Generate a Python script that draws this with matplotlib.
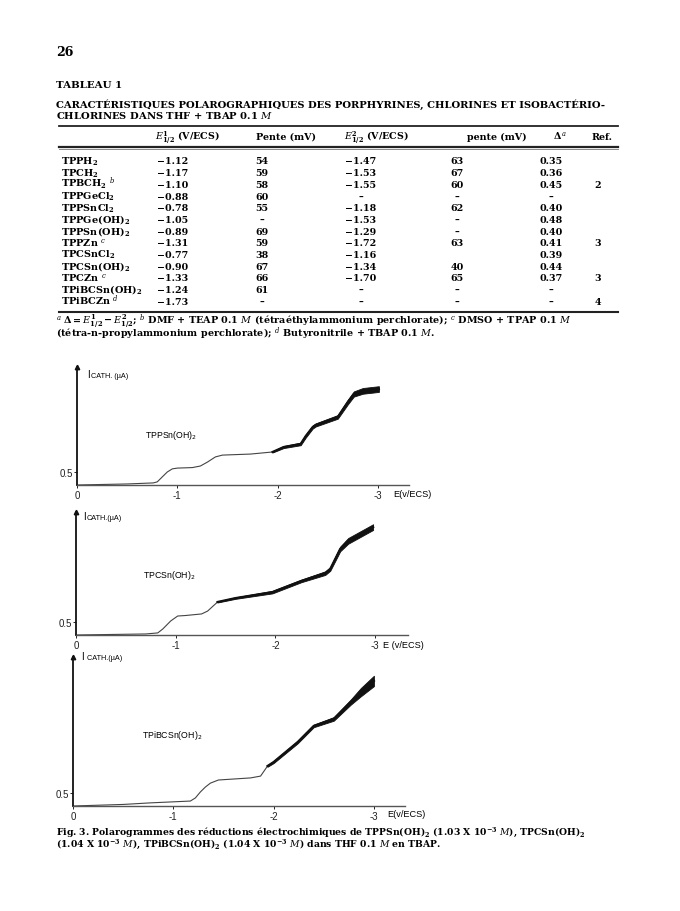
import matplotlib
matplotlib.use("Agg")
import matplotlib.pyplot as plt
import numpy as np

plt.rcParams['mathtext.fontset'] = 'dejavuserif'
plt.rcParams['mathtext.default'] = 'bf'

W, H = 680, 912

# ---------------- table data ----------------
col_headers = [r'$\mathit{E}^{1}_{1/2}$ (V/ECS)', 'Pente (mV)', r'$\mathit{E}^{2}_{1/2}$ (V/ECS)',
               'pente (mV)', r'$\Delta^{\,\mathit{a}}$', 'Ref.']
names = ['TPPH$_2$', 'TPCH$_2$', r'TPBCH$_2$ $^{\mathit{b}}$', 'TPPGeCl$_2$', 'TPPSnCl$_2$',
         'TPPGe(OH)$_2$', 'TPPSn(OH)$_2$', r'TPPZn $^{\mathit{c}}$', 'TPCSnCl$_2$',
         'TPCSn(OH)$_2$', r'TPCZn $^{\mathit{c}}$', 'TPiBCSn(OH)$_2$', r'TPiBCZn $^{\mathit{d}}$']
e_half_1 = ['−1.12', '−1.17', '−1.10', '−0.88', '−0.78', '−1.05', '−0.89', '−1.31', '−0.77',
            '−0.90', '−1.33', '−1.24', '−1.73']
pente_1 = ['54', '59', '58', '60', '55', '–', '69', '59', '38', '67', '66', '61', '–']
e_half_2 = ['−1.47', '−1.53', '−1.55', '–', '−1.18', '−1.53', '−1.29', '−1.72', '−1.16',
            '−1.34', '−1.70', '–', '–']
pente_2 = ['63', '67', '60', '–', '62', '–', '–', '63', '', '40', '65', '–', '–']
delta = ['0.35', '0.36', '0.45', '–', '0.40', '0.48', '0.40', '0.41', '0.39', '0.44', '0.37',
         '–', '–']
refs = ['', '', '2', '', '', '', '', '3', '', '', '3', '', '4']

# ---------------- polarogram data (E in V/ECS, I in uA) ----------------
labels = ['TPPSn(OH)$_\\mathrm{2}$', 'TPCSn(OH)$_\\mathrm{2}$', 'TPiBCSn(OH)$_\\mathrm{2}$']

E1 = [0, -0.5, -0.76, -0.8, -0.85, -0.9, -0.95, -1.0, -1.15, -1.23, -1.3, -1.38, -1.45, -1.73,
      -1.95, -2.06, -2.23, -2.28, -2.35, -2.38, -2.6, -2.7, -2.76, -2.85, -3.01]
I1 = [0, 0.04, 0.08, 0.12, 0.31, 0.5, 0.62, 0.65, 0.67, 0.73, 0.88, 1.08, 1.15, 1.19,
      1.27, 1.46, 1.58, 1.88, 2.23, 2.31, 2.62, 3.19, 3.5, 3.62, 3.69]
N1 = [0, 0, 0, 0, 0, 0, 0, 0, 0, 0, 0, 0, 0, 0,
      0.02, 0.04, 0.05, 0.06, 0.06, 0.06, 0.07, 0.09, 0.1, 0.11, 0.11]

E2 = [0, -0.7, -0.82, -0.87, -0.95, -1.02, -1.1, -1.26, -1.32, -1.42, -1.6, -1.97, -2.26,
      -2.5, -2.55, -2.65, -2.73, -2.98]
I2 = [0, 0.04, 0.08, 0.23, 0.54, 0.73, 0.75, 0.81, 0.92, 1.27, 1.42, 1.65, 2.08,
      2.38, 2.54, 3.31, 3.62, 4.15]
N2 = [0, 0, 0, 0, 0, 0, 0, 0, 0, 0.02, 0.03, 0.05, 0.05, 0.07, 0.07, 0.09, 0.11, 0.11]

E3 = [0, -0.5, -0.77, -1.17, -1.22, -1.27, -1.32, -1.37, -1.45, -1.77, -1.87, -1.94, -2.0,
      -2.24, -2.4, -2.6, -2.77, -2.87, -3.0]
I3 = [0, 0.06, 0.12, 0.19, 0.31, 0.54, 0.73, 0.88, 1.0, 1.08, 1.15, 1.54, 1.69,
      2.46, 3.08, 3.35, 4.0, 4.38, 4.81]
N3 = [0, 0, 0, 0, 0, 0, 0, 0, 0, 0, 0, 0.03, 0.04, 0.05, 0.05, 0.07, 0.1, 0.16, 0.2]

x_ticks = [0, -1, -2, -3]
x_ticklabels = ['0', '-1', '-2', '-3']
y_ticks = [0.5]
y_ticklabels = ['0.5']

fig = plt.figure(figsize=(W / 100, H / 100), dpi=100)
fig.patch.set_facecolor('white')

SERIF = 'DejaVu Serif'
SANS = 'Liberation Sans'


def T(x, y, s, size=7.0, ha='left', va='baseline', family=SERIF, weight='bold', **kw):
    return fig.text(x / W, 1 - y / H, s, fontsize=size, ha=ha, va=va,
                    family=family, weight=weight, **kw)


def HL(y, x0, x1, lw=1.0, color='#222'):
    fig.add_artist(plt.Line2D([x0 / W, x1 / W], [1 - y / H, 1 - y / H],
                              lw=lw, color=color, transform=fig.transFigure))


# ---------------- page header / table ----------------
T(56, 56, '26', size=9)
T(56, 87.5, 'TABLEAU 1', size=7.4)
T(56, 107.5, 'CARACTÉRISTIQUES POLAROGRAPHIQUES DES PORPHYRINES, CHLORINES ET ISOBACTÉRIO-', size=7.2)
T(56, 119, r'CHLORINES DANS THF + TBAP 0.1 $\mathit{M}$', size=7.2)

HL(126.5, 59, 618, lw=1.3)
hdr_x = [155, 256, 344, 467, 553, 592]
for hx, hs in zip(hdr_x, col_headers):
    T(hx, 140, hs, size=6.8)
HL(147.5, 59, 618, lw=1.6)
HL(149.5, 59, 618, lw=0.6, color='#777')

col_cx = [173, 262, 361, 457, 551, 598]
for i in range(len(names)):
    yb = 164.5 + 11.67 * i
    T(61, yb, names[i], size=7.0)
    for cx, col in zip(col_cx, [e_half_1, pente_1, e_half_2, pente_2, delta, refs]):
        if col[i]:
            T(cx, yb, col[i], size=6.8, ha='center')
HL(312.5, 59, 618, lw=1.5)

T(56, 324.5, r'$^{\mathit{a}}$ $\Delta = \mathit{E}^{1}_{1/2} - \mathit{E}^{2}_{1/2}$; $^{\mathit{b}}$ DMF + TEAP 0.1 $\mathit{M}$ (tétraéthylammonium perchlorate); $^{\mathit{c}}$ DMSO + TPAP 0.1 $\mathit{M}$', size=6.9)
T(56, 337, r'(tétra-n-propylammonium perchlorate); $^{\mathit{d}}$ Butyronitrile + TBAP 0.1 $\mathit{M}$.', size=6.9)

# ---------------- polarograms ----------------
# panel geometry in page pixels: axis x, baseline y, x-axis end, y-axis top, px per volt
panels = [
    dict(ax=77, base=486, end=409, top=368, pv=100.3, lab=(87, 375), name=(145, 435), e=(393, 494), etxt='E(v/ECS)', itxt='CATH. (µA)'),
    dict(ax=76, base=636, end=408, top=513, pv=99.7, lab=(83, 517), name=(143, 575), e=(383, 645), etxt='E (v/ECS)', itxt='CATH.(µA)'),
    dict(ax=73, base=807, end=405, top=658, pv=100.3, lab=(81, 658), name=(142, 735), e=(387, 814), etxt='E(v/ECS)', itxt=' CATH.(µA)'),
]
curves = [(E1, I1, N1), (E2, I2, N2), (E3, I3, N3)]
PX_PER_UA = 26.0

for p, (E, I, N), lab in zip(panels, curves, labels):
    rect = [p['ax'] / W, 1 - p['base'] / H, (p['end'] - p['ax']) / W, (p['base'] - p['top']) / H]
    ax = fig.add_axes(rect)
    ax.set_facecolor('none')
    xmax = (p['end'] - p['ax']) / p['pv']
    ymax = (p['base'] - p['top']) / PX_PER_UA
    ax.set_xlim(0, -xmax)
    ax.set_ylim(0, ymax)
    for s in ['top', 'right']:
        ax.spines[s].set_visible(False)
    ax.spines['left'].set_linewidth(1.3)
    ax.spines['left'].set_color('#111')
    ax.spines['bottom'].set_linewidth(1.0)
    ax.spines['bottom'].set_color('#555')
    ax.plot([0], [ymax], marker='^', color='#111', ms=3.2, clip_on=False)
    ax.set_xticks(x_ticks)
    ax.set_xticklabels(x_ticklabels, family=SANS, fontsize=7)
    ax.set_yticks(y_ticks)
    ax.set_yticklabels(y_ticklabels, family=SANS, fontsize=7)
    ax.tick_params(axis='x', length=2, width=0.7, pad=1.5, colors='#222')
    ax.tick_params(axis='y', length=2, width=0.7, pad=1, colors='#222')

    E = np.array(E); I = np.array(I); N = np.array(N)
    noisy = N > 0
    ax.plot(E, I, color='#444', lw=0.8, clip_on=False)
    ax.fill_between(E, I - N, I + N, where=noisy, color='#111', lw=0.6, clip_on=False)
    ax.plot(E[noisy], I[noisy], color='#111', lw=1.6, clip_on=False)

    T(p['lab'][0], p['lab'][1] + 2.5, 'I', size=7, family=SANS, weight='normal')
    T(p['lab'][0] + 4, p['lab'][1] + 2.5, p['itxt'], size=5.2, family=SANS, weight='normal')
    T(p['name'][0], p['name'][1] + 3, lab, size=6.3, family=SANS, weight='normal',
      math_fontfamily='dejavusans')
    T(p['e'][0], p['e'][1] + 3, p['etxt'], size=6.6, family=SANS, weight='normal')

# ---------------- caption ----------------
T(56, 835, r'Fig. 3. Polarogrammes des réductions électrochimiques de TPPSn(OH)$_2$ (1.03 X 10$^{-3}$ $\mathit{M}$), TPCSn(OH)$_2$', size=6.7)
T(56, 846.5, r'(1.04 X 10$^{-3}$ $\mathit{M}$), TPiBCSn(OH)$_2$ (1.04 X 10$^{-3}$ $\mathit{M}$) dans THF 0.1 $\mathit{M}$ en TBAP.', size=6.7)

fig.savefig('out.png', dpi=100, facecolor='white')
